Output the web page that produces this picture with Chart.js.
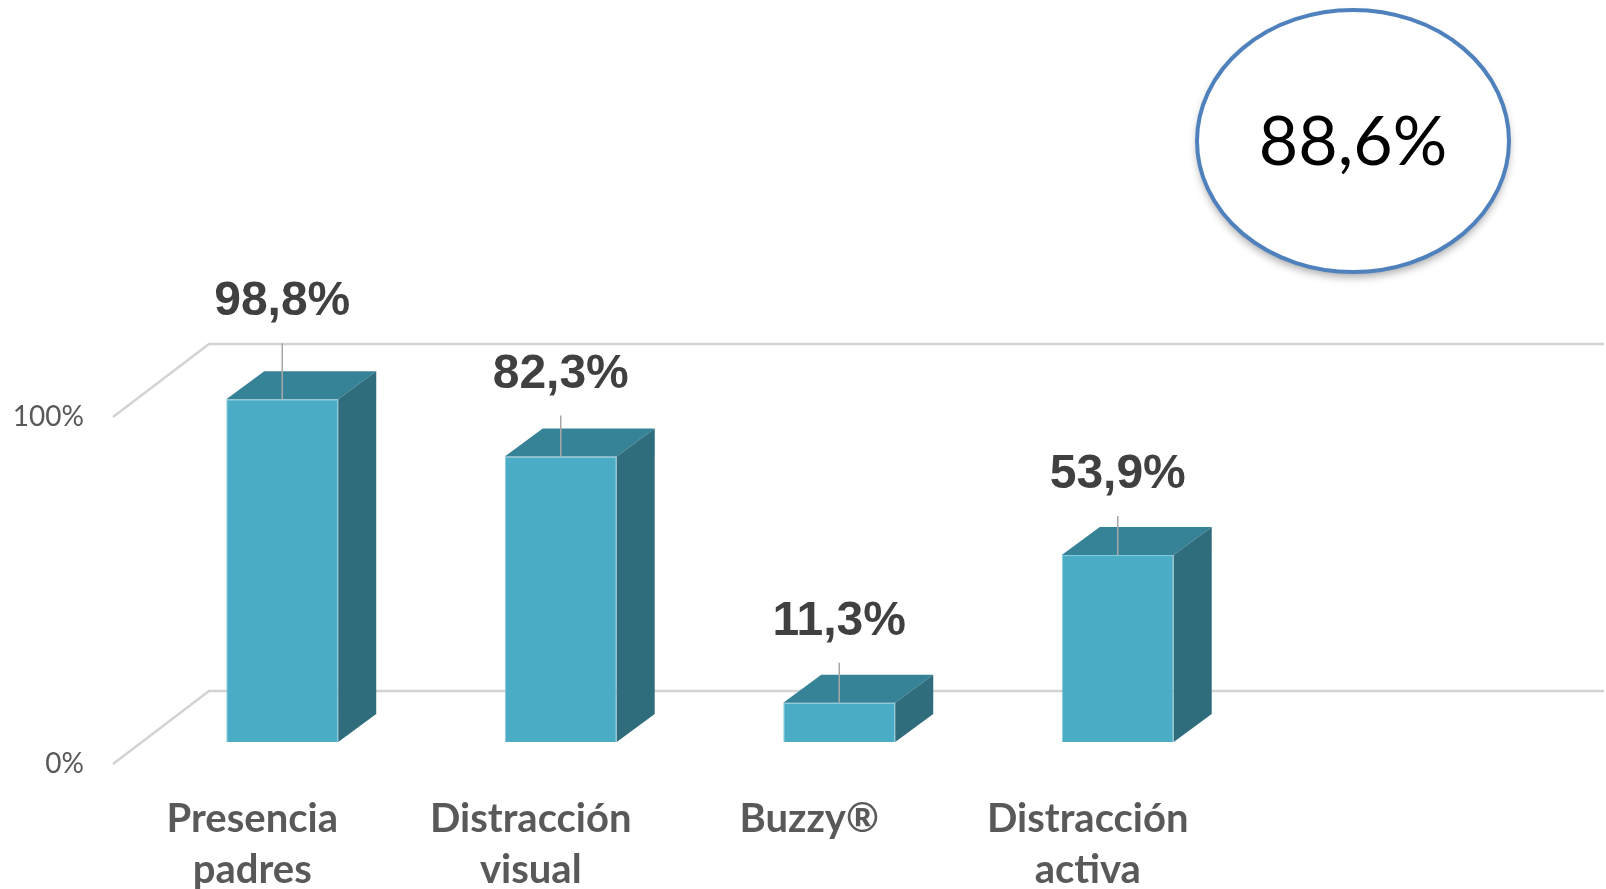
<!DOCTYPE html>
<html>
<head>
<meta charset="utf-8">
<script src="https://cdn.jsdelivr.net/npm/chart.js@4/dist/chart.umd.min.js"></script>
<style>
  html, body { margin: 0; padding: 0; background: #fff; }
  #wrap { width: 1606px; height: 889px; }
</style>
</head>
<body>
<div id="wrap"><canvas id="myChart" width="1606" height="889"></canvas></div>
<script>
// data
const categories = [["Presencia", "padres"], ["Distracción", "visual"], "Buzzy®", ["Distracción", "activa"]];
const values = [98.8, 82.3, 11.3, 53.9];
const yTicks = [0, 100];
const overallValue = 88.6;

// look
const frontColor = "#4BACC6";
const topColor = "#368296";
const sideColor = "#306D7C";
const depthX = 38, depthY = -28;      // bar depth
const labelLift = [97, 82, 81, 80];   // label centre above bar top

const fmt = (v) => v.toFixed(1).replace(".", ",") + "%";

const fake3d = {
  id: "fake3d",
  beforeDatasetsDraw(chart) {
    const { ctx, chartArea } = chart;
    const y = chart.scales.y;
    ctx.save();
    ctx.strokeStyle = "#D3D3D3";
    ctx.lineWidth = 2.5;
    yTicks.forEach((t) => {
      const py = y.getPixelForValue(t);
      ctx.beginPath();
      ctx.moveTo(chartArea.left - 30, py + 22);
      ctx.lineTo(chartArea.left + 66, py - 51);
      ctx.lineTo(chart.width - 2, py - 51);
      ctx.stroke();
    });
    ctx.restore();
  },
  afterDatasetsDraw(chart) {
    const { ctx } = chart;
    const bars = chart.getDatasetMeta(0).data;
    ctx.save();
    bars.forEach((b, i) => {
      const L = b.x - b.width / 2, R = b.x + b.width / 2;
      const top = b.y, base = b.base;
      // top face
      ctx.fillStyle = topColor;
      ctx.beginPath();
      ctx.moveTo(L, top);
      ctx.lineTo(L + depthX, top + depthY);
      ctx.lineTo(R + depthX, top + depthY);
      ctx.lineTo(R, top);
      ctx.closePath();
      ctx.fill();
      // side face
      ctx.fillStyle = sideColor;
      ctx.beginPath();
      ctx.moveTo(R, top);
      ctx.lineTo(R + depthX, top + depthY);
      ctx.lineTo(R + depthX, base + depthY);
      ctx.lineTo(R, base);
      ctx.closePath();
      ctx.fill();

      // leader + value label
      const ly = top - labelLift[i];
      ctx.strokeStyle = "#A6A6A6";
      ctx.lineWidth = 1.5;
      ctx.beginPath();
      ctx.moveTo(b.x, top);
      ctx.lineTo(b.x, ly + 41);
      ctx.stroke();
      ctx.fillStyle = "#404040";
      ctx.font = "bold 48px 'Liberation Sans', Arial, sans-serif";
      ctx.textAlign = "center";
      ctx.textBaseline = "middle";
      ctx.fillText(fmt(values[i]), b.x, ly);
    });
    ctx.restore();
  },
  afterDraw(chart) {
    const { ctx } = chart;
    ctx.save();
    ctx.shadowColor = "rgba(0,0,0,0.35)";
    ctx.shadowBlur = 8;
    ctx.shadowOffsetY = 5;
    ctx.beginPath();
    ctx.ellipse(1353, 141, 156, 131, 0, 0, Math.PI * 2);
    ctx.fillStyle = "#fff";
    ctx.fill();
    ctx.shadowColor = "transparent";
    ctx.strokeStyle = "#4F81BD";
    ctx.lineWidth = 4;
    ctx.stroke();
    ctx.fillStyle = "#000";
    ctx.font = "68px Lato, sans-serif";
    ctx.textAlign = "center";
    ctx.textBaseline = "middle";
    ctx.fillText(fmt(overallValue), 1353, 143);
    ctx.restore();
  }
};

const ctx = document.getElementById("myChart").getContext("2d");
const myChart = new Chart(ctx, {
  type: "bar",
  data: {
    labels: categories,
    datasets: [
      {
        data: values,
        backgroundColor: frontColor,
        borderColor: "#86C9DA",
        borderWidth: 1,
        barPercentage: 0.402,
        categoryPercentage: 1,
      },
    ],
  },
  options: {
    responsive: false,
    animation: false,
    layout: {
      padding: { left: 14, right: 349, top: 395, bottom: 0 },
    },
    plugins: {
      legend: { display: false },
      tooltip: { enabled: false },
    },
    scales: {
      x: {
        grid: { display: false, drawTicks: false },
        border: { display: false },
        afterFit: (s) => { s.height = 147; },
        ticks: {
          padding: 52,
          labelOffset: -30,
          color: "#595959",
          font: { family: "Lato", weight: "bold", size: 40, lineHeight: "51px" },
        },
      },
      y: {
        min: 0,
        max: 100,
        grid: { display: false, drawTicks: false },
        border: { display: false },
        afterFit: (s) => { s.width = 129; },
        ticks: {
          stepSize: 100,
          padding: 59,
          labelOffset: 22,
          color: "#595959",
          font: { family: "Lato", size: 28 },
          callback: (v) => v + "%",
        },
      },
    },
  },
  plugins: [fake3d],
});
</script>
</body>
</html>
